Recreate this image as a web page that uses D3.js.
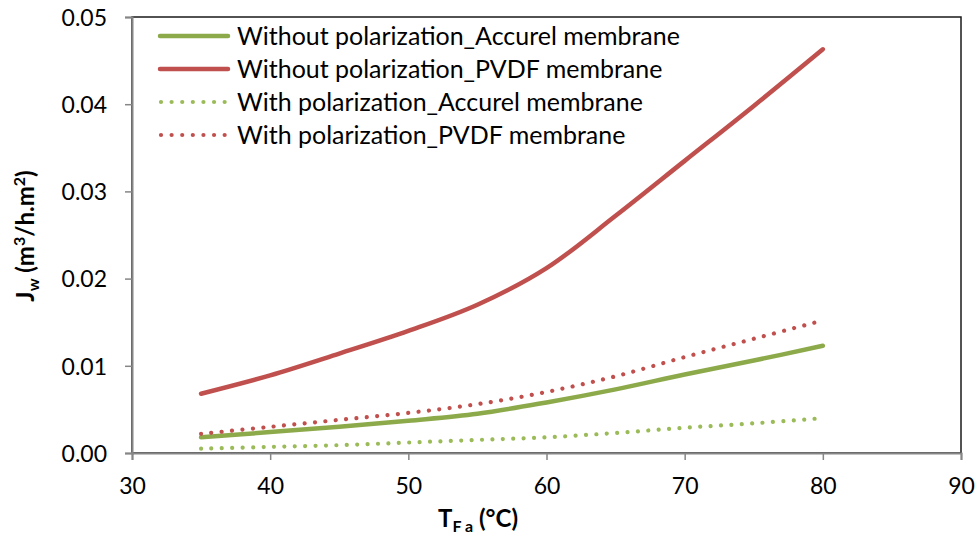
<!DOCTYPE html>
<html>
<head>
<meta charset="utf-8">
<script src="https://cdn.jsdelivr.net/npm/d3@7"></script>
<style>
  html, body { margin: 0; padding: 0; background: #fff; }
  svg { display: block; font-family: Lato, "Open Sans", sans-serif; }
</style>
</head>
<body>
<svg id="chart" width="979" height="536"></svg>
<script>
// ---- Data ----
const temperatures = [35, 40, 45, 50, 55, 60, 65, 70, 75, 80];
const withoutPolAccurel = [0.0018, 0.0024, 0.0030, 0.0037, 0.0045, 0.0058, 0.0073, 0.0090, 0.0106, 0.0123];
const withoutPolPVDF    = [0.0068, 0.0089, 0.0114, 0.0140, 0.0170, 0.0212, 0.0272, 0.0335, 0.0398, 0.0463];
const withPolAccurel    = [0.0005, 0.0007, 0.0009, 0.0012, 0.0015, 0.0018, 0.0023, 0.0029, 0.0034, 0.0040];
const withPolPVDF       = [0.0022, 0.0030, 0.0038, 0.0046, 0.0056, 0.0070, 0.0088, 0.0110, 0.0131, 0.0152];
const seriesNames = [
  "Without polarization_Accurel membrane",
  "Without polarization_PVDF membrane",
  "With polarization_Accurel membrane",
  "With polarization_PVDF membrane"
];
const xTicks = [30, 40, 50, 60, 70, 80, 90];
const yTicks = [0, 0.01, 0.02, 0.03, 0.04, 0.05];

const series = [
  { name: seriesNames[0], values: withoutPolAccurel, color: "#8DAA4B", dotted: false },
  { name: seriesNames[1], values: withoutPolPVDF,    color: "#C0504D", dotted: false },
  { name: seriesNames[2], values: withPolAccurel,    color: "#9BBB59", dotted: true },
  { name: seriesNames[3], values: withPolPVDF,       color: "#C0504D", dotted: true }
];

// ---- Layout ----
const svg = d3.select("#chart");
const plotL = 132, plotR = 961, plotT = 17, plotB = 453;
const x = d3.scaleLinear().domain([30, 90]).range([plotL, plotR]);
const y = d3.scaleLinear().domain([0, 0.05]).range([plotB, plotT]);

// plot border (top/right visible)
svg.append("rect")
  .attr("x", plotL).attr("y", plotT)
  .attr("width", plotR - plotL).attr("height", plotB - plotT)
  .attr("fill", "none").attr("stroke", "#1a1a1a").attr("stroke-width", 1.5);

// axes
const axisColor = "#868686";
const yAxis = svg.append("g").attr("transform", `translate(${plotL},0)`)
  .call(d3.axisLeft(y).tickValues(yTicks).tickFormat(d3.format(".2f")).tickSize(7).tickPadding(8));
const xAxis = svg.append("g").attr("transform", `translate(0,${plotB})`)
  .call(d3.axisBottom(x).tickValues(xTicks).tickFormat(d3.format("d")).tickSize(7).tickPadding(8));
[yAxis, xAxis].forEach(g => {
  g.select(".domain").attr("stroke", axisColor).attr("stroke-width", 2);
  g.selectAll(".tick line").attr("stroke", axisColor).attr("stroke-width", 1.5);
  g.selectAll(".tick text").attr("fill", "#000").style("font-size", "23px").style("font-family", "Lato, sans-serif");
});
yAxis.selectAll(".tick text").attr("x", -25).attr("dy", "0.36em");
xAxis.selectAll(".tick text").attr("y", 25);

// lines
const line = d3.line()
  .x((d, i) => x(temperatures[i]))
  .y(d => y(d))
  .curve(d3.curveCatmullRom.alpha(0.5));

series.forEach(s => {
  const p = svg.append("path")
    .datum(s.values)
    .attr("d", line)
    .attr("fill", "none")
    .attr("stroke", s.color)
    .attr("stroke-linecap", "round")
    .attr("stroke-linejoin", "round");
  if (s.dotted) {
    p.attr("stroke-width", 4.2).attr("stroke-dasharray", "0.01 10.4");
  } else {
    p.attr("stroke-width", 4.5);
  }
});

// legend
const legendRows = [36, 69, 102, 135];
const legend = svg.append("g");
const legendTexts = [];
series.forEach((s, i) => {
  const ly = legendRows[i];
  const l = legend.append("line")
    .attr("x1", 160).attr("x2", 228)
    .attr("y1", ly).attr("y2", ly)
    .attr("stroke", s.color)
    .attr("stroke-linecap", "round");
  if (s.dotted) {
    l.attr("x1", 161).attr("x2", 225).attr("stroke-width", 4.2).attr("stroke-dasharray", "0.01 10.6");
  } else {
    l.attr("stroke-width", 4.5);
  }
  legendTexts.push(legend.append("text")
    .attr("x", 237).attr("y", ly)
    .attr("dy", "0.36em")
    .style("font-size", "22px")
    .attr("fill", "#000")
    .text(s.name));
});
// fit legend font so the first entry spans like the reference
const w0 = legendTexts[0].node().getComputedTextLength();
const fs = Math.min(26, 22 * 443 / w0);
legendTexts.forEach(t => t.style("font-size", fs + "px"));

// y axis title
const yt = svg.append("text")
  .attr("transform", "translate(34,236) rotate(-90)")
  .attr("text-anchor", "middle")
  .style("font-size", "24px")
  .style("font-weight", "bold")
  .attr("fill", "#000");
yt.append("tspan").text("J");
yt.append("tspan").attr("dy", 5).style("font-size", "16px").text("w");
yt.append("tspan").attr("dy", -5).text(" (m");
yt.append("tspan").attr("dy", -9).style("font-size", "16px").text("3");
yt.append("tspan").attr("dy", 9).text("/h.m");
yt.append("tspan").attr("dy", -9).style("font-size", "16px").text("2");
yt.append("tspan").attr("dy", 9).text(")");

// x axis title
const xt = svg.append("text")
  .attr("x", 478).attr("y", 527)
  .attr("text-anchor", "middle")
  .style("font-size", "24px")
  .style("font-weight", "bold")
  .attr("fill", "#000");
xt.append("tspan").text("T");
xt.append("tspan").attr("dy", 5).style("font-size", "16px").text("F a");
xt.append("tspan").attr("dy", -5).text(" (°C)");
</script>
</body>
</html>
